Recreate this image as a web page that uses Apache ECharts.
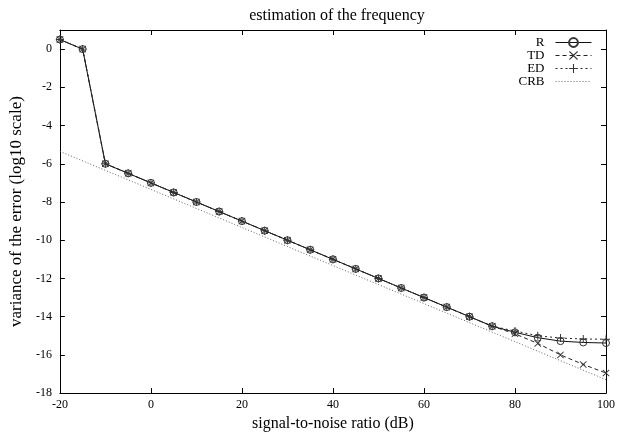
<!DOCTYPE html>
<html><head><meta charset="utf-8">
<script src="https://cdn.jsdelivr.net/npm/echarts@6/dist/echarts.min.js"></script>
<style>html,body{margin:0;padding:0;background:#fff}#c{width:618px;height:437px}</style>
</head><body><div id="c"></div>
<script>
const snr = [-20,-15,-10,-5,0,5,10,15,20,25,30,35,40,45,50,55,60,65,70,75,80,85,90,95,100];
const R  = [0.5,0,-6,-6.5,-7,-7.5,-8,-8.5,-9,-9.5,-10,-10.5,-11,-11.5,-12,-12.5,-13,-13.5,-14,-14.5,-14.82,-15.1,-15.28,-15.35,-15.38];
const TD = [0.5,0,-6,-6.5,-7,-7.5,-8,-8.5,-9,-9.5,-10,-10.5,-11,-11.5,-12,-12.5,-13,-13.5,-14,-14.5,-14.9,-15.4,-16.0,-16.5,-16.95];
const ED = [0.5,0,-6,-6.5,-7,-7.5,-8,-8.5,-9,-9.5,-10,-10.5,-11,-11.5,-12,-12.5,-13,-13.5,-14,-14.5,-14.75,-15.0,-15.12,-15.17,-15.18];
const crbX = [-20,100];
const crbY = [-5.35,-17.3];
const yTicks = {min:-18,max:1,interval:2};
const xTicks = {min:-20,max:100,interval:20};

const pair = (xs, ys) => xs.map((x,i)=>[x, ys[i]]);
const font = 'Liberation Serif';
const plus = 'path://M-0.6,-5L0.6,-5L0.6,-0.6L5,-0.6L5,0.6L0.6,0.6L0.6,5L-0.6,5L-0.6,0.6L-5,0.6L-5,-0.6L-0.6,-0.6Z';
const cross = 'path://M-4.3,-3.5L0,-0.8L4.3,-3.5L5,-2.8L0.8,0L5,2.8L4.3,3.5L0,0.8L-4.3,3.5L-5,2.8L-0.8,0L-5,-2.8Z';

const chart = echarts.init(document.getElementById('c'), null, {renderer:'canvas'});
const axisCommon = () => ({
  axisLine:{show:true,onZero:false,lineStyle:{color:'#000',width:1}},
  axisTick:{show:true,inside:true,length:5,lineStyle:{color:'#000'}},
  splitLine:{show:false}
});
chart.setOption({
  animation:false,
  backgroundColor:'#fff',
  title:{text:'estimation of the frequency',left:332,textAlign:'center',top:3,
    textStyle:{fontFamily:font,fontWeight:'normal',fontSize:16,color:'#000'}},
  legend:{
    orient:'vertical', right:21, top:31, align:'right', itemGap:0, itemWidth:36, itemHeight:11,
    textStyle:{fontFamily:font,fontSize:13,color:'#000',lineHeight:11.5,padding:[0,6,0,0]},
    lineStyle:{width:1},
    data:['R','TD','ED',{name:'CRB',itemStyle:{opacity:0}}]
  },
  grid:{left:57,right:11,top:30,bottom:41},
  xAxis:[
    Object.assign({type:'value',position:'bottom',min:xTicks.min,max:xTicks.max,interval:xTicks.interval,
      name:'signal-to-noise ratio (dB)',nameLocation:'middle',nameGap:21,
      nameTextStyle:{fontFamily:font,fontSize:16,color:'#000'},
      axisLabel:{fontFamily:font,fontSize:12,color:'#000',margin:6}},axisCommon()),
    Object.assign({type:'value',position:'top',min:xTicks.min,max:xTicks.max,interval:xTicks.interval,
      axisLabel:{show:false}},axisCommon())
  ],
  yAxis:[
    Object.assign({type:'value',position:'left',min:yTicks.min,max:yTicks.max,interval:yTicks.interval,
      name:'variance of the error (log10 scale)',nameLocation:'middle',nameGap:31,
      nameTextStyle:{fontFamily:font,fontSize:17,color:'#000'},
      axisLabel:{fontFamily:font,fontSize:12,color:'#000',margin:8,
        formatter:v=> (v===1?'':String(v))}},axisCommon()),
    Object.assign({type:'value',position:'right',min:yTicks.min,max:yTicks.max,interval:yTicks.interval,
      axisLabel:{show:false}},axisCommon())
  ],
  series:[
    {name:'R',type:'line',data:pair(snr,R),symbol:'circle',symbolSize:7,z:2,
      lineStyle:{color:'#111',width:1},itemStyle:{color:'rgba(255,255,255,0)',borderColor:'#333',borderWidth:1}},
    {name:'TD',type:'line',data:pair(snr,TD),symbol:cross,symbolSize:7,z:3,
      lineStyle:{color:'#222',width:1,type:[4,3]},itemStyle:{color:'#333'}},
    {name:'ED',type:'line',data:pair(snr,ED),symbol:plus,symbolSize:8,z:3,
      lineStyle:{color:'#222',width:1,type:[2,3]},itemStyle:{color:'#333'}},
    {name:'CRB',type:'line',data:pair(crbX,crbY),symbol:'none',z:1,
      lineStyle:{color:'#666',width:1,type:[1,2]},itemStyle:{color:'#666'}}
  ]
});
</script></body></html>
